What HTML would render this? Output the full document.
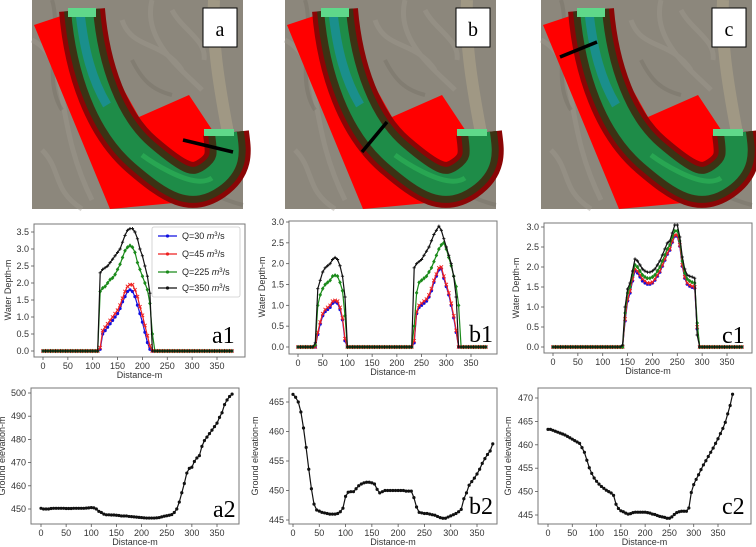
<!DOCTYPE html>
<html><head><meta charset="utf-8">
<style>
html,body{margin:0;padding:0;background:#fff;}
#root{position:relative;width:756px;height:547px;overflow:hidden;font-family:"Liberation Sans",sans-serif;}
svg{position:absolute;left:0;top:0;}
</style></head>
<body>
<div id="root">
<svg id="fig" width="756" height="547" viewBox="0 0 756 547"></svg>
</div>
<script>
// ---- data ----
const depthA1_Q30 = [0,0,0,0,0,0,0,0,0,0,0,0,0,0,0,0,0,0,0,0,0,0,0,
 0.05,0.5,0.6,0.7,0.8,0.9,1.0,1.1,1.25,1.45,1.6,1.75,1.8,1.75,1.6,1.35,1.1,0.85,0.55,0.25,0.05,
 0,0,0,0,0,0,0,0,0,0,0,0,0,0,0,0,0,0,0,0,0,0,0,0,0,0,0,0,0,0,0,0,0];
const depthA1_Q45 = [0,0,0,0,0,0,0,0,0,0,0,0,0,0,0,0,0,0,0,0,0,0,0,
 0.1,0.6,0.7,0.8,0.9,1.0,1.1,1.2,1.35,1.55,1.75,1.9,1.95,1.95,1.8,1.6,1.3,1.05,0.75,0.45,0.15,
 0,0,0,0,0,0,0,0,0,0,0,0,0,0,0,0,0,0,0,0,0,0,0,0,0,0,0,0,0,0,0,0,0];
const depthA1_Q225 = [0,0,0,0,0,0,0,0,0,0,0,0,0,0,0,0,0,0,0,0,0,0,0,
 1.75,1.85,1.9,2.0,2.1,2.15,2.25,2.4,2.55,2.75,2.95,3.05,3.1,3.05,2.9,2.6,2.4,2.2,2.0,1.8,1.4,
 0.5,0,0,0,0,0,0,0,0,0,0,0,0,0,0,0,0,0,0,0,0,0,0,0,0,0,0,0,0,0,0,0,0];
const depthA1_Q350 = [0,0,0,0,0,0,0,0,0,0,0,0,0,0,0,0,0,0,0,0,0,0,0,
 2.3,2.4,2.45,2.5,2.6,2.7,2.8,2.9,3.0,3.2,3.4,3.55,3.6,3.6,3.5,3.3,3.0,2.8,2.5,2.2,1.7,
 0,0,0,0,0,0,0,0,0,0,0,0,0,0,0,0,0,0,0,0,0,0,0,0,0,0,0,0,0,0,0,0,0];

const depthB1_Q30 = [0,0,0,0,0,0,0,0,0.3,0.55,0.75,0.85,0.9,0.95,1.05,1.08,1.05,0.9,0.65,0.15,0,
 0,0,0,0,0,0,0,0,0,0,0,0,0,0,0,0,0,0,0,0,0,0,0,0,0,0,
 0.1,0.8,0.95,1.0,1.05,1.1,1.2,1.35,1.55,1.7,1.85,1.88,1.65,1.45,1.25,1.0,0.7,0.35,0,
 0,0,0,0,0,0,0,0,0,0,0];
const depthB1_Q45 = [0,0,0,0,0,0,0,0,0.35,0.6,0.8,0.9,0.95,1.0,1.1,1.12,1.1,0.95,0.7,0.2,0,
 0,0,0,0,0,0,0,0,0,0,0,0,0,0,0,0,0,0,0,0,0,0,0,0,0,0,
 0.15,0.85,1.0,1.05,1.1,1.15,1.25,1.4,1.6,1.75,1.9,1.92,1.7,1.5,1.3,1.05,0.75,0.4,0,
 0,0,0,0,0,0,0,0,0,0,0];
const depthB1_Q225 = [0,0,0,0,0,0,0,0.05,1.0,1.25,1.4,1.5,1.55,1.6,1.7,1.72,1.7,1.55,1.35,0.75,0,
 0,0,0,0,0,0,0,0,0,0,0,0,0,0,0,0,0,0,0,0,0,0,0,0,0,0,
 0.5,1.3,1.55,1.6,1.65,1.7,1.8,1.9,2.05,2.2,2.35,2.45,2.5,2.35,2.15,1.95,1.7,1.45,1.0,
 0,0,0,0,0,0,0,0,0,0,0];
const depthB1_Q350 = [0,0,0,0,0,0,0,0.1,1.4,1.6,1.8,1.9,1.95,2.0,2.1,2.15,2.1,1.95,1.7,1.2,0,
 0,0,0,0,0,0,0,0,0,0,0,0,0,0,0,0,0,0,0,0,0,0,0,0,0,0,
 1.9,2.0,2.05,2.1,2.2,2.3,2.4,2.55,2.7,2.8,2.9,2.8,2.6,2.4,2.2,2.0,1.7,1.2,0,
 0,0,0,0,0,0,0,0,0,0,0];

const depthC1_Q30 = [0,0,0,0,0,0,0,0,0,0,0,0,0,0,0,0,0,0,0,0,0,0,0,0,0,0,0,0,0,
 0.65,1.15,1.35,1.65,1.9,1.85,1.75,1.65,1.6,1.57,1.57,1.6,1.67,1.77,1.87,2.02,2.17,2.32,2.42,2.62,2.77,2.77,2.52,2.02,1.72,1.57,1.52,1.49,1.47,0.45,
 0,0,0,0,0,0,0,0,0,0,0,0,0,0,0,0,0,0];
const depthC1_Q45 = [0,0,0,0,0,0,0,0,0,0,0,0,0,0,0,0,0,0,0,0,0,0,0,0,0,0,0,0,0,
 0.7,1.2,1.4,1.7,1.95,1.9,1.8,1.7,1.65,1.6,1.6,1.62,1.7,1.8,1.9,2.05,2.2,2.35,2.45,2.65,2.8,2.8,2.55,2.05,1.75,1.6,1.55,1.52,1.5,0.5,
 0,0,0,0,0,0,0,0,0,0,0,0,0,0,0,0,0,0];
const depthC1_Q225 = [0,0,0,0,0,0,0,0,0,0,0,0,0,0,0,0,0,0,0,0,0,0,0,0,0,0,0,0,0,
 0.85,1.35,1.5,1.8,2.05,2.0,1.9,1.8,1.75,1.72,1.72,1.75,1.8,1.9,2.0,2.15,2.3,2.45,2.55,2.75,2.9,2.9,2.65,2.15,1.85,1.7,1.65,1.62,1.6,0.6,
 0,0,0,0,0,0,0,0,0,0,0,0,0,0,0,0,0,0];
const depthC1_Q350 = [0,0,0,0,0,0,0,0,0,0,0,0,0,0,0,0,0,0,0,0,0,0,0,0,0,0,0,0,0.05,
 1.0,1.45,1.6,1.9,2.2,2.15,2.05,1.95,1.9,1.87,1.87,1.9,1.95,2.05,2.15,2.3,2.45,2.6,2.65,2.85,3.05,3.05,2.75,2.25,1.95,1.8,1.77,1.75,1.72,0.3,
 0,0,0,0,0,0,0,0,0,0,0,0,0,0,0,0,0,0];

const groundA2 = [450.3,450,450,450,450.2,450.3,450.3,450.3,450.3,450.3,450.2,450.2,450.2,450.3,450.3,450.3,450.3,450.3,450.4,450.5,450.6,450.5,
 450,449,448.5,447.8,447.5,447.5,447.4,447.4,447.3,447.2,447,447,447,446.8,446.7,446.6,446.5,446.4,446.3,446.2,446.1,446.1,446.1,446.1,446.2,446.3,446.6,446.9,447.1,447.3,447.6,448.5,450,453,457,461,465.5,467.5,468,470.5,472,473,477,479.5,481,482.5,484,485.5,487,489.5,491.5,495,497,498.5,499.5];
const groundB2 = [466.3,465.8,465,463.3,460.6,457.3,453.6,450.3,447.7,446.7,446.5,446.3,446.2,446.1,446,446,446,446.1,446.4,447,449,449.7,449.8,449.8,450.3,450.8,451.1,451.3,451.4,451.4,451.3,451.1,450.2,449.6,449.8,450,450,450,450,450,450,450,450,449.9,449.9,449.9,448.8,447.2,446.3,446.2,446.1,446.1,446,445.9,445.8,445.6,445.4,445.3,445.3,445.5,445.7,445.9,446.1,446.4,446.8,448.6,449.6,450.9,451.5,452.1,452.8,453.6,454.6,455.4,456.1,456.7,457.9];
const groundC2 = [463.3,463.3,463.1,462.9,462.7,462.5,462.3,462.1,461.8,461.5,461.2,460.9,460.6,460.3,459.4,458.4,456.7,455.1,453.9,452.9,452.2,451.6,451.1,450.7,450.3,450,449.7,449.2,447.3,446.4,445.9,445.7,445.4,445.2,445.3,445.5,445.6,445.6,445.6,445.6,445.6,445.5,445.4,445.2,445.1,444.9,444.7,444.6,444.5,444.3,444.3,444.6,445.1,445.5,445.7,445.8,445.8,445.8,446.5,449.8,451.5,452.6,453.6,454.7,455.7,456.6,457.5,458.4,459.3,460.3,461.3,462.4,463.5,464.8,466.6,468.4,470.8];

const distStep = 5;
const xTicks = [0,50,100,150,200,250,300,350];
const depthTicksA = [0,0.5,1.0,1.5,2.0,2.5,3.0,3.5];
const depthTicksB = [0,0.5,1.0,1.5,2.0,2.5,3.0];
const elevTicksA = [450,460,470,480,490,500];
const elevTicksB = [445,450,455,460,465];
const elevTicksC = [445,450,455,460,465,470];
const seriesNames = ['Q=30','Q=45','Q=225','Q=350'];

// ---- drawing ----
const NS='http://www.w3.org/2000/svg';
const fig=document.getElementById('fig');
function mk(tag,attrs,parent){const e=document.createElementNS(NS,tag);for(const k in attrs)e.setAttribute(k,attrs[k]);(parent||fig).appendChild(e);return e;}

function mapPanel(ox,letter,line){
  const g=mk('g',{transform:'translate('+ox+',0)'});
  
  
  const cl='M50,10 C55,70 75,125 110,155 S160,192 180,178 S196,150 194,133';
  g.innerHTML=`
  <rect x="0" y="0" width="211" height="209" fill="#8c877c"/>
  <path d="M0,40 C40,60 20,120 60,200 M120,0 C110,40 150,70 170,90 M90,20 C100,50 130,40 150,70 M10,150 C30,170 20,190 50,209 M140,10 C150,30 175,40 172,60" stroke="#a09b90" stroke-width="5" fill="none" opacity="0.4"/>
  <path d="M20,0 C30,30 10,80 30,110 M160,185 C180,192 190,200 211,205 M100,60 C110,80 120,90 140,95" stroke="#726d63" stroke-width="4" fill="none" opacity="0.4"/>
  <path d="M182,0 C180,40 186,80 196,133" stroke="#a09884" stroke-width="12" fill="none"/>
  <path d="M2,25 L47,10 L107,117 L157,95 L210,175 L168,195 L142,203 L78,209 Z" fill="#ff0000"/>
  <path d="${cl}" stroke="#8b0505" stroke-width="46" fill="none"/>
  <path d="${cl}" stroke="#3c3214" stroke-width="36" fill="none"/>
  <path d="${cl}" stroke="#1e8c48" stroke-width="22" fill="none"/>
  <path d="M48,12 C52,50 60,80 75,105" stroke="#1a8f8c" stroke-width="9" fill="none"/>
  <path d="M110,155 S160,192 180,178" stroke="#2fb85a" stroke-width="5" fill="none" opacity="0.6"/>
  <rect x="36" y="8" width="28" height="9" fill="#5fd88a"/>
  <rect x="172" y="129" width="30" height="7" fill="#5fd88a"/>
  <line x1="${line[0]}" y1="${line[1]}" x2="${line[2]}" y2="${line[3]}" stroke="#000" stroke-width="3.5"/>
  <rect x="171" y="8" width="34" height="39" fill="#fff" stroke="#000" stroke-width="1"/>
  <text x="188" y="36" text-anchor="middle" font-family="Liberation Serif,serif" font-size="20" fill="#000">${letter}</text>`;
}
mapPanel(32,'a',[151,140,201,152]);
mapPanel(285,'b',[77,152,102,122]);
mapPanel(541,'c',[19,57,56,42]);

function chart(cfg){
  const g=mk('g',{});
  
  
  const sx=v=>cfg.x0+(cfg.x350-cfg.x0)*v/350;
  const sy=v=>cfg.yB+(cfg.yT-cfg.yB)*(v-cfg.vB)/(cfg.vT-cfg.vB);
  const f=cfg.frame;
  const fr=mk('rect',{x:f[0],y:f[1],width:f[2]-f[0],height:f[3]-f[1],fill:'#fff',stroke:'#777','stroke-width':1},g);
  
  
  xTicks.forEach(t=>{
    mk('line',{x1:sx(t),x2:sx(t),y1:f[3],y2:f[3]+3,stroke:'#555','stroke-width':0.8},g);
    const tx=mk('text',{x:sx(t),y:f[3]+12,'text-anchor':'middle','font-size':9,fill:'#333'},g);
    tx.textContent=t;
    
    
  });
  cfg.yTicks.forEach(t=>{
    mk('line',{x1:f[0]-3,x2:f[0],y1:sy(t),y2:sy(t),stroke:'#555','stroke-width':0.8},g);
    const tx=mk('text',{x:f[0]-5,y:sy(t)+3,'text-anchor':'end','font-size':9,fill:'#333'},g);
    tx.textContent=cfg.fmt(t);
    
    
  });
  const xl=mk('text',{x:(f[0]+f[2])/2,y:f[3]+21,'text-anchor':'middle','font-size':9,fill:'#333'},g);
  xl.textContent='Distance-m';
  
  
  if(cfg.ylab){
    const yl=mk('text',{x:cfg.ylab[0],y:cfg.ylab[1],'text-anchor':'middle','font-size':9,fill:'#333',transform:'rotate(-90 '+cfg.ylab[0]+' '+cfg.ylab[1]+')'},g);
    yl.textContent=cfg.ylab[2];
    
    
  }
  cfg.series.forEach((s,si)=>{
    const pts=s.data.map((v,i)=>[sx(i*distStep),sy(v)]);
    const pl=mk('polyline',{points:pts.map(p=>p[0].toFixed(1)+','+p[1].toFixed(1)).join(' '),fill:'none',stroke:s.color,'stroke-width':1.2},g);
    
    
    pts.forEach(p=>{
      let m;
      if(s.marker==='o') m=mk('circle',{cx:p[0],cy:p[1],r:1.6,fill:s.color},g);
      else if(s.marker==='x') m=mk('path',{d:`M${p[0]-1.7},${p[1]-1.7}L${p[0]+1.7},${p[1]+1.7}M${p[0]-1.7},${p[1]+1.7}L${p[0]+1.7},${p[1]-1.7}`,stroke:s.color,'stroke-width':0.9},g);
      else if(s.marker==='d') m=mk('path',{d:`M${p[0]},${p[1]-2.2}L${p[0]+1.8},${p[1]}L${p[0]},${p[1]+2.2}L${p[0]-1.8},${p[1]}Z`,fill:s.color},g);
      else m=mk('path',{d:`M${p[0]-1.6},${p[1]}L${p[0]+1.6},${p[1]}M${p[0]},${p[1]-1.6}L${p[0]},${p[1]+1.6}`,stroke:s.color,'stroke-width':0.9},g);
      
      
    });
  });
  const lb=mk('text',{x:cfg.label[0],y:cfg.label[1],'font-family':'Liberation Serif,serif','font-size':24,fill:'#000'},g);
  lb.textContent=cfg.label[2];
  
  
  return g;
}
const C=['#1010e0','#ee2020','#1a8a1a','#111'];
const M=['o','x','d','+'];
function depthSeries(arrs){return arrs.map((d,i)=>({data:d,color:C[i],marker:M[i],key:seriesNames[i].replace('=','')}));}
const f1=v=>v.toFixed(1);
const f0=v=>String(v);

chart({name:'chart-a1',frame:[34,224,245,357],x0:43,x350:217,vB:0,yB:351,vT:3.5,yT:232,yTicks:depthTicksA,fmt:f1,
  ylab:[11,290,'Water Depth-m'],label:[212,343,'a1'],
  series:depthSeries([depthA1_Q30,depthA1_Q45,depthA1_Q225,depthA1_Q350])});
chart({name:'chart-b1',frame:[289,221,497,354],x0:298,x350:471,vB:0,yB:347,vT:3.0,yT:222,yTicks:depthTicksB,fmt:f1,
  ylab:[265,287,'Water Depth-m'],label:[469,342,'b1'],
  series:depthSeries([depthB1_Q30,depthB1_Q45,depthB1_Q225,depthB1_Q350])});
chart({name:'chart-c1',frame:[544,223,752,353],x0:553,x350:727,vB:0,yB:347,vT:3.0,yT:227,yTicks:depthTicksB,fmt:f1,
  ylab:[519,288,'Water Depth-m'],label:[722,343,'c1'],
  series:depthSeries([depthC1_Q30,depthC1_Q45,depthC1_Q225,depthC1_Q350])});
chart({name:'chart-a2',frame:[31,388,239,524],x0:41,x350:217,vB:450,yB:509,vT:500,yT:393,yTicks:elevTicksA,fmt:f0,
  ylab:[5,456,'Ground elevation-m'],label:[213,517,'a2'],
  series:[{data:groundA2,color:'#111',marker:'o',key:'ground-a2'}]});
chart({name:'chart-b2',frame:[289,388,497,524],x0:293,x350:477,vB:445,yB:520,vT:465,yT:402,yTicks:elevTicksB,fmt:f0,
  ylab:[258,456,'Ground elevation-m'],label:[469,514,'b2'],
  series:[{data:groundB2,color:'#111',marker:'o',key:'ground-b2'}]});
chart({name:'chart-c2',frame:[538,388,751,524],x0:548,x350:718,vB:445,yB:515,vT:470,yT:398,yTicks:elevTicksC,fmt:f0,
  ylab:[511,456,'Ground elevation-m'],label:[722,514,'c2'],
  series:[{data:groundC2,color:'#111',marker:'o',key:'ground-c2'}]});

// legend
const lg=mk('g',{});


mk('rect',{x:152,y:227,width:88,height:70,fill:'#fff',stroke:'#ccc','stroke-width':0.8,rx:2},lg);
const legY=[236,254,272,288];
const legTxt=['30','45','225','350'];
legY.forEach((y,i)=>{
  const e=mk('g',{},lg);
  
  
  mk('line',{x1:158,x2:177,y1:y,y2:y,stroke:C[i],'stroke-width':1.2},e);
  mk('circle',{cx:167.5,cy:y,r:1.6,fill:C[i]},e);
  const t=mk('text',{x:182,y:y+3,'font-size':9,fill:'#222'},e);
  t.innerHTML='Q='+legTxt[i]+' <tspan font-style="italic">m</tspan><tspan font-size="6" dy="-3">3</tspan><tspan dy="3">/s</tspan>';
});
</script>
</body></html>
